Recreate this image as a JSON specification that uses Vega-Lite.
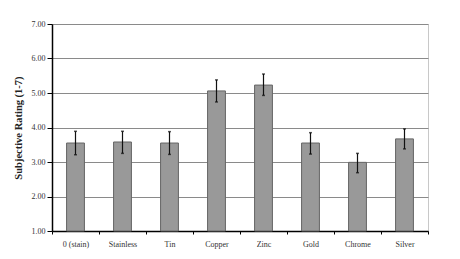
{
  "$schema": "https://vega.github.io/schema/vega-lite/v6.json",
  "width": 376,
  "height": 207,
  "autosize": "none",
  "padding": {"left": 52, "top": 24, "right": 32, "bottom": 28},
  "background": "white",
  "config": {
    "font": "Liberation Serif",
    "view": {"stroke": "#c8c8c8", "strokeWidth": 1},
    "axisY": {
      "titleFontSize": 10.5,
      "titleFontWeight": "bold",
      "titleColor": "#222",
      "titlePadding": 8,
      "labelOverlap": false,
      "labelFontSize": 8,
      "labelColor": "#333",
      "labelPadding": 2,
      "tickSize": 5,
      "tickColor": "#000",
      "domainColor": "#000",
      "domainWidth": 1.5,
      "grid": true,
      "gridColor": "#8a8a8a",
      "gridWidth": 1
    }
  },
  "data": {
    "values": [
      {"cat": "0 (stain)", "mean": 3.55, "lo": 3.21, "hi": 3.89},
      {"cat": "Stainless", "mean": 3.58, "lo": 3.25, "hi": 3.89},
      {"cat": "Tin", "mean": 3.55, "lo": 3.22, "hi": 3.88},
      {"cat": "Copper", "mean": 5.06, "lo": 4.74, "hi": 5.38},
      {"cat": "Zinc", "mean": 5.23, "lo": 4.93, "hi": 5.55},
      {"cat": "Gold", "mean": 3.55, "lo": 3.23, "hi": 3.85},
      {"cat": "Chrome", "mean": 2.99, "lo": 2.69, "hi": 3.25},
      {"cat": "Silver", "mean": 3.67, "lo": 3.38, "hi": 3.96}
    ]
  },
  "encoding": {
    "x": {
      "field": "cat",
      "type": "nominal",
      "sort": null,
      "scale": {"paddingInner": 0, "paddingOuter": 0},
      "axis": {
        "title": null,
        "labelAngle": 0,
        "labelFontSize": 8,
        "labelColor": "#333",
        "labelPadding": 6,
        "tickBand": "extent",
        "tickSize": 3,
        "tickColor": "#000",
        "domainColor": "#000",
        "domainWidth": 1.5
      }
    }
  },
  "layer": [
    {
      "mark": {"type": "bar", "width": {"band": 0.38}, "fill": "#999999", "stroke": "#666666", "strokeWidth": 1},
      "encoding": {
        "y": {
          "field": "mean",
          "type": "quantitative",
          "scale": {"domain": [1, 7], "zero": false, "nice": false},
          "axis": {"title": "Subjective Rating (1-7)", "values": [1, 2, 3, 4, 5, 6, 7], "format": ".2f"}
        },
        "y2": {"datum": 1}
      }
    },
    {
      "mark": {"type": "rule", "color": "#111", "strokeWidth": 1.2},
      "encoding": {
        "y": {"field": "lo", "type": "quantitative", "axis": {"title": "Subjective Rating (1-7)", "values": [1, 2, 3, 4, 5, 6, 7], "format": ".2f"}},
        "y2": {"field": "hi"}
      }
    },
    {
      "mark": {"type": "tick", "color": "#111", "size": 3, "thickness": 1.5},
      "encoding": {"y": {"field": "lo", "type": "quantitative", "axis": {"title": "Subjective Rating (1-7)", "values": [1, 2, 3, 4, 5, 6, 7], "format": ".2f"}}}
    },
    {
      "mark": {"type": "tick", "color": "#111", "size": 3, "thickness": 1.5},
      "encoding": {"y": {"field": "hi", "type": "quantitative", "axis": {"title": "Subjective Rating (1-7)", "values": [1, 2, 3, 4, 5, 6, 7], "format": ".2f"}}}
    }
  ]
}
